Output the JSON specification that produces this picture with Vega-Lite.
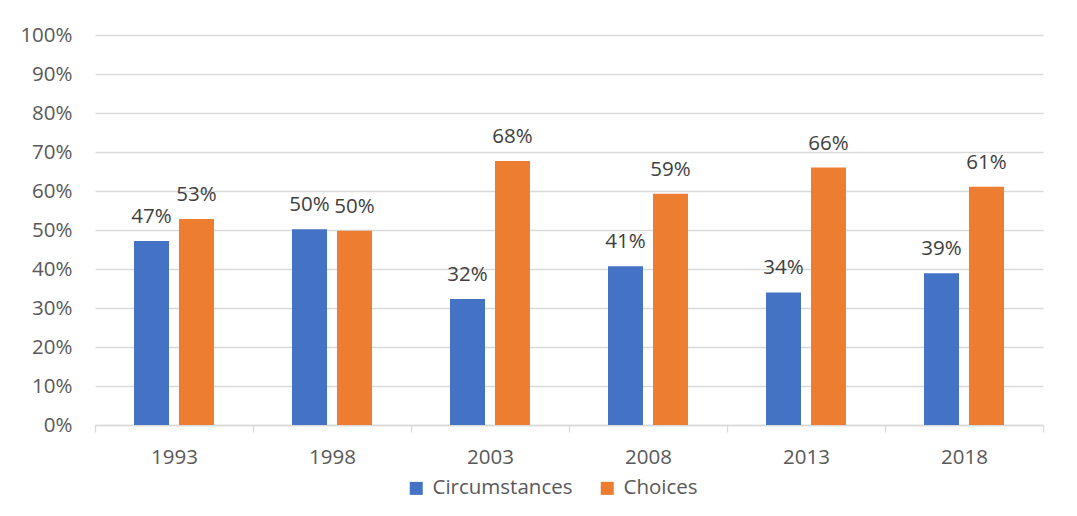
{
  "$schema": "https://vega.github.io/schema/vega-lite/v6.json",
  "width": 948,
  "height": 390,
  "autosize": {"type": "none"},
  "padding": {"left": 95, "top": 35, "right": 34, "bottom": 91},
  "background": "white",
  "config": {"view": {"stroke": null}, "font": "Open Sans"},
  "data": {
    "values": [
      {"year": "1993", "series": "Circumstances", "value": 0.472},
      {"year": "1993", "series": "Choices", "value": 0.528},
      {"year": "1998", "series": "Circumstances", "value": 0.502},
      {"year": "1998", "series": "Choices", "value": 0.498},
      {"year": "2003", "series": "Circumstances", "value": 0.323},
      {"year": "2003", "series": "Choices", "value": 0.677},
      {"year": "2008", "series": "Circumstances", "value": 0.407},
      {"year": "2008", "series": "Choices", "value": 0.593},
      {"year": "2013", "series": "Circumstances", "value": 0.34},
      {"year": "2013", "series": "Choices", "value": 0.66},
      {"year": "2018", "series": "Circumstances", "value": 0.389},
      {"year": "2018", "series": "Choices", "value": 0.611}
    ]
  },
  "encoding": {
    "x": {
      "field": "year",
      "type": "nominal",
      "scale": {"paddingInner": 0, "paddingOuter": 0},
      "axis": {
        "title": null,
        "labelAngle": 0,
        "labelFontSize": 20.5,
        "labelColor": "#595959",
        "domainColor": "#d9d9d9",
        "domainWidth": 1.3,
        "tickColor": "#d9d9d9",
        "tickWidth": 1.3,
        "tickSize": 7,
        "tickBand": "extent",
        "labelPadding": 15,
        "grid": false
      }
    },
    "xOffset": {
      "field": "series",
      "type": "nominal",
      "scale": {"domain": ["Circumstances", "Choices"], "paddingInner": 0.222, "paddingOuter": 0.867}
    },
    "y": {
      "field": "value",
      "type": "quantitative",
      "scale": {"domain": [0, 1], "nice": false},
      "axis": {
        "title": null,
        "format": ".0%",
        "values": [0, 0.1, 0.2, 0.3, 0.4, 0.5, 0.6, 0.7, 0.8, 0.9, 1],
        "ticks": false,
        "tickSize": 0,
        "domain": false,
        "gridColor": "#d9d9d9",
        "gridWidth": 1.3,
        "labelFontSize": 20.5,
        "labelColor": "#595959",
        "labelPadding": 23
      }
    }
  },
  "layer": [
    {
      "mark": {"type": "bar"},
      "encoding": {
        "color": {
          "field": "series",
          "type": "nominal",
          "scale": {"domain": ["Circumstances", "Choices"], "range": ["#4472C4", "#ED7D31"]},
          "legend": {
            "title": null,
            "orient": "none",
            "direction": "horizontal",
            "legendX": 311,
            "legendY": 443,
            "symbolType": "square",
            "symbolSize": 169,
            "symbolStrokeWidth": 0,
            "labelFontSize": 20.5,
            "labelColor": "#595959",
            "labelOffset": 6,
            "columnPadding": 24
          }
        }
      }
    },
    {
      "mark": {"type": "text", "baseline": "alphabetic", "dy": -18, "fontSize": 20.5, "color": "#404040"},
      "encoding": {"text": {"field": "value", "type": "quantitative", "format": ".0%"}}
    }
  ]
}
